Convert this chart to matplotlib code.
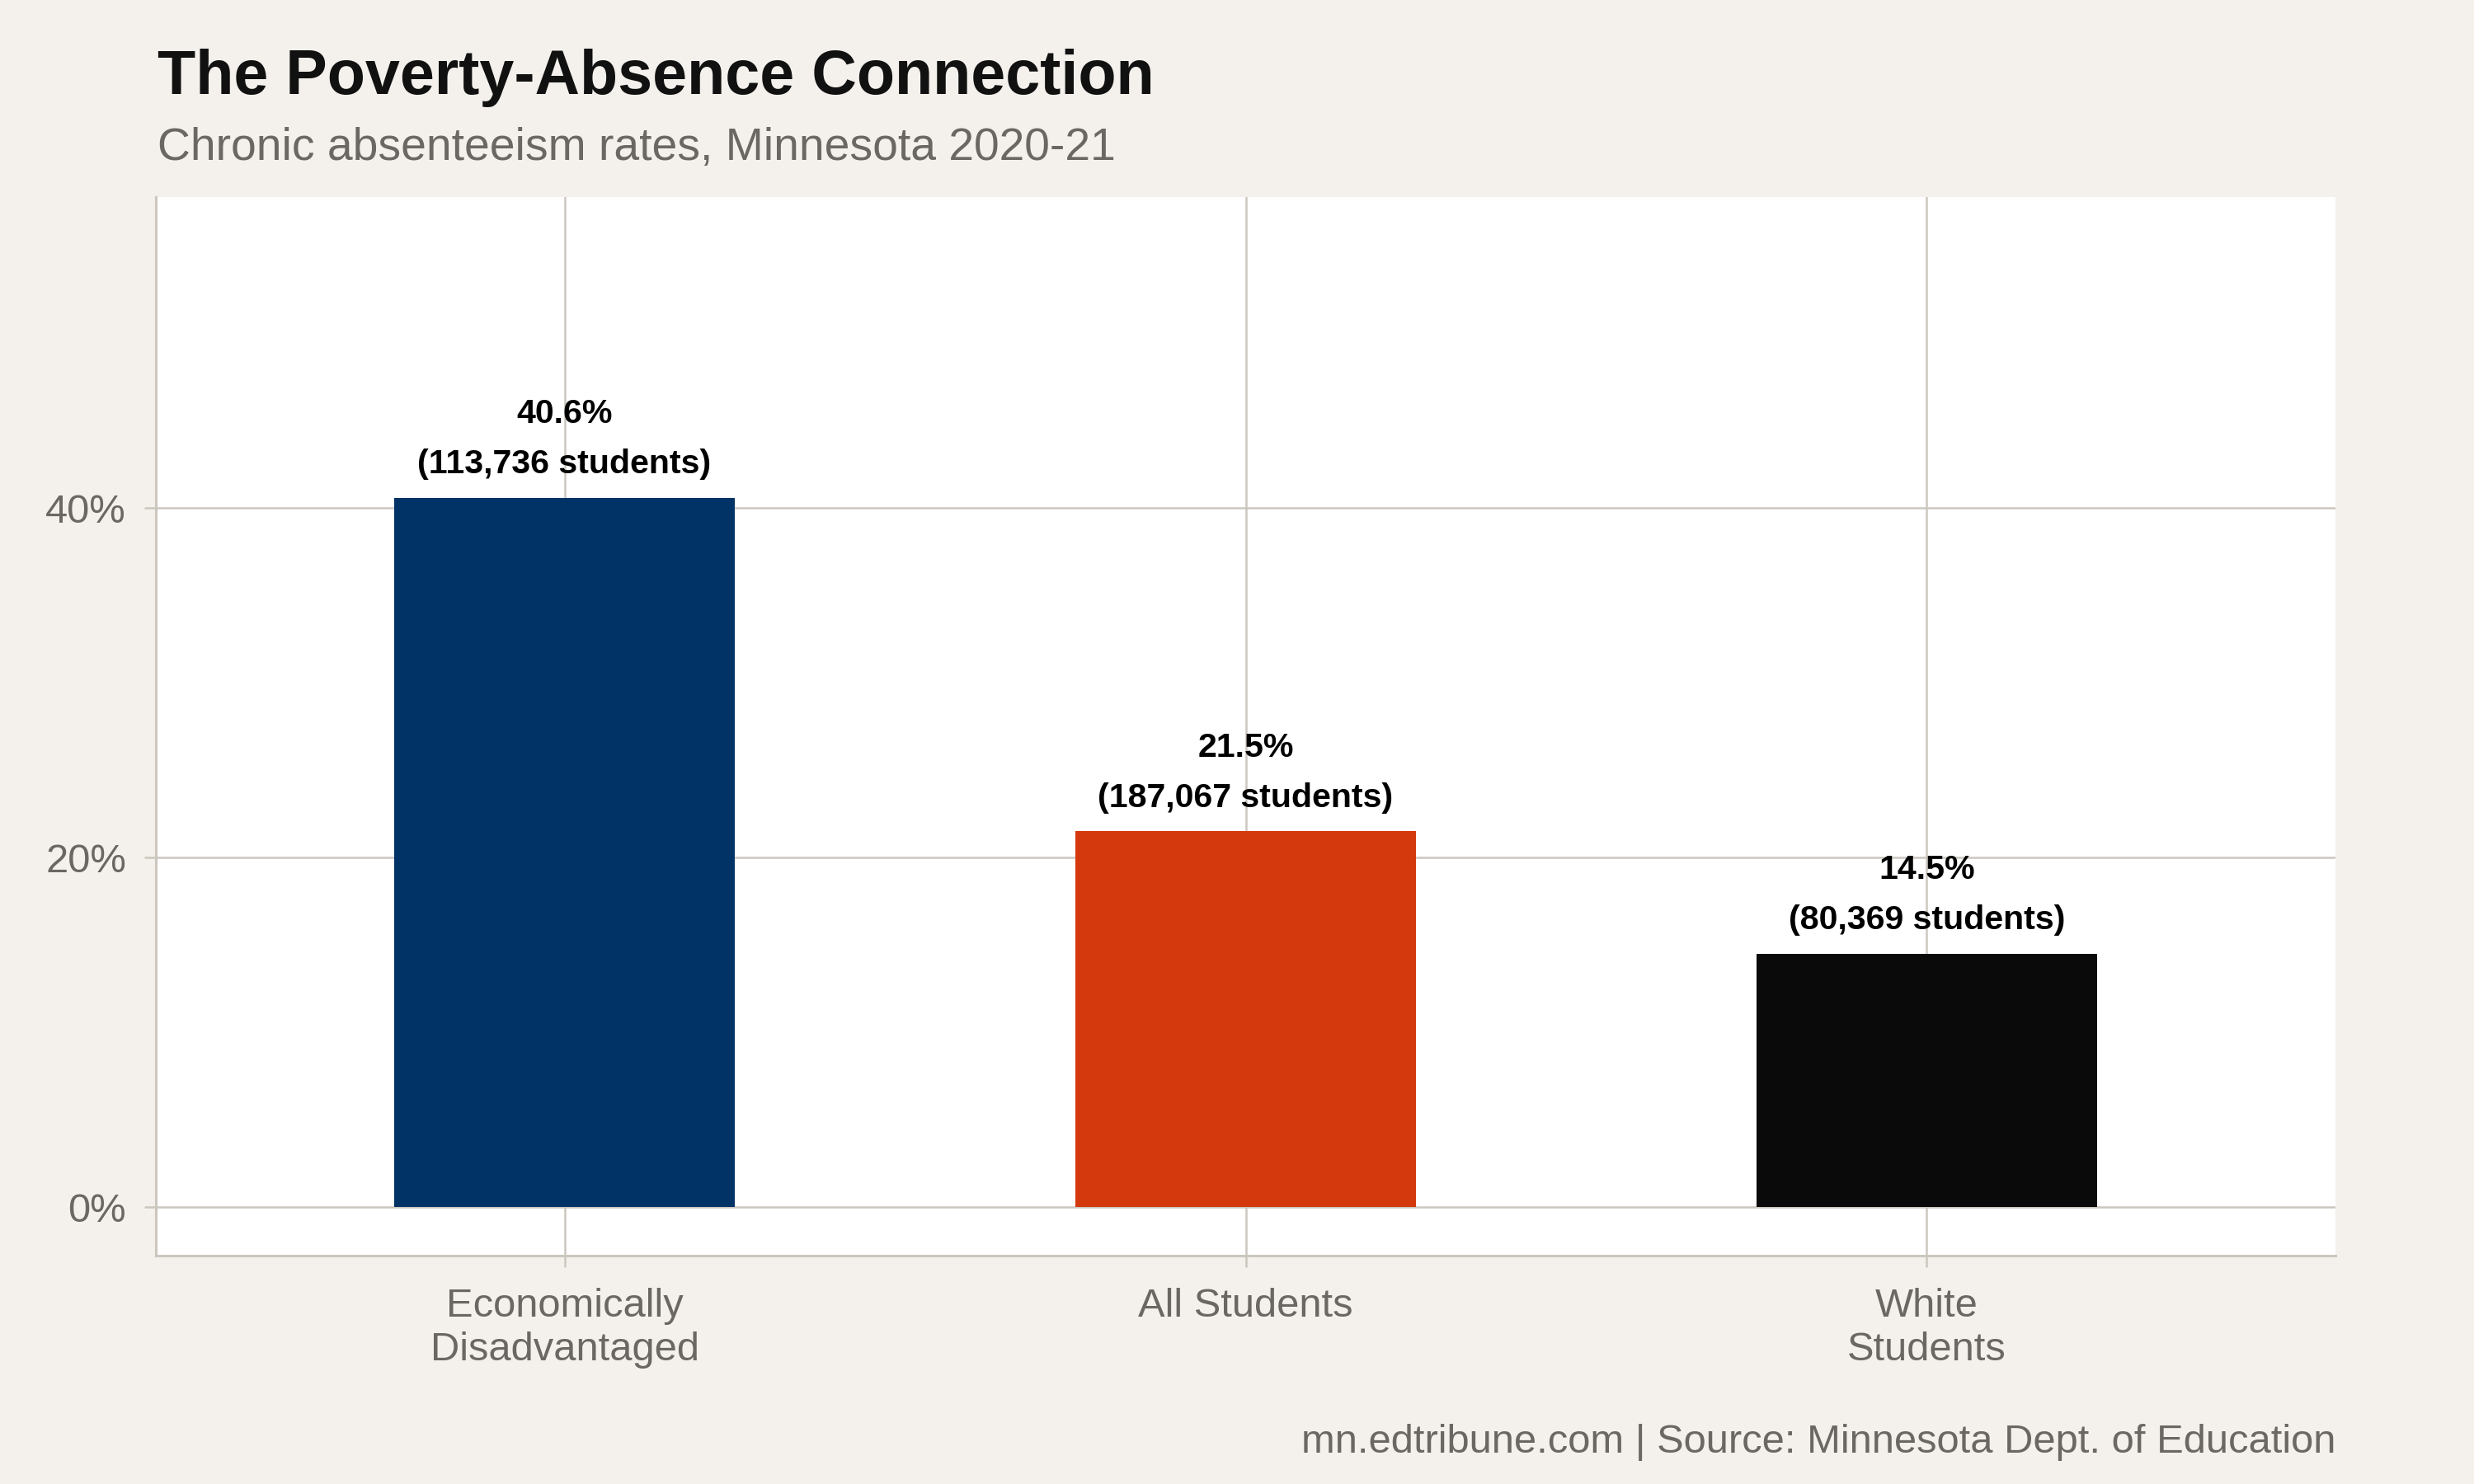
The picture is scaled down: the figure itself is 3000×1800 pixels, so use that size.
import matplotlib.pyplot as plt

# data
categories = ["Economically\nDisadvantaged", "All Students", "White\nStudents"]
rates = [40.6, 21.5, 14.5]
students = ["113,736", "187,067", "80,369"]
bar_colors = ["#013366", "#D4380D", "#0A0A0A"]
y_ticks = [0, 20, 40]
y_tick_labels = ["0%", "20%", "40%"]

bg = "#F4F1EC"
grid_col = "#CCC7BE"
text_gray = "#6B6762"

plt.rcParams['font.family'] = ['Liberation Sans', 'DejaVu Sans']

fig = plt.figure(figsize=(15, 9), dpi=200, facecolor=bg)
ax = fig.add_axes([189 / 3000, 1 - 1523 / 1800, (2832 - 189) / 3000, (1523 - 239) / 1800])
ax.set_facecolor("white")

x = range(len(categories))
ax.bar(x, rates, width=0.5, color=bar_colors, zorder=3)

# labels above bars
for i, (r, n) in enumerate(zip(rates, students)):
    ax.annotate(f"{r}%", (i, r), xytext=(0, 36.5), textcoords="offset points",
                ha="center", va="center", fontsize=14.8, fontweight="bold", color="black")
    ax.annotate(f"({n} students)", (i, r), xytext=(0, 14.5), textcoords="offset points",
                ha="center", va="center", fontsize=14.8, fontweight="bold", color="black")

ax.set_xlim(-0.6, 2.6)
ax.set_ylim(-2.78, 57.8)
ax.set_xticks(list(x))
ax.set_xticklabels(categories, fontsize=17.6, color=text_gray, linespacing=1.24)
ax.set_yticks(y_ticks)
ax.set_yticklabels(y_tick_labels, fontsize=17.6, color=text_gray)

ax.grid(True, color=grid_col, linewidth=0.9, zorder=0)
ax.set_axisbelow(True)
ax.tick_params(axis="x", length=5, width=0.9, color=grid_col, pad=9)
ax.tick_params(axis="y", length=5, width=0.9, color=grid_col, pad=8)

for side in ["top", "right"]:
    ax.spines[side].set_visible(False)
for side in ["left", "bottom"]:
    ax.spines[side].set_color(grid_col)
    ax.spines[side].set_linewidth(1.1)

fig.text(191 / 3000, 1 - 94 / 1800, "The Poverty-Absence Connection",
         fontsize=27.2, fontweight="bold", color="#111111", ha="left", va="center")
fig.text(191 / 3000, 1 - 180 / 1800, "Chronic absenteeism rates, Minnesota 2020-21",
         fontsize=19.9, color=text_gray, ha="left", va="center")
fig.text(2832 / 3000, 1 - 1749 / 1800, "mn.edtribune.com | Source: Minnesota Dept. of Education",
         fontsize=17.6, color=text_gray, ha="right", va="center")

fig.savefig("out.png", dpi=200, facecolor=bg)
